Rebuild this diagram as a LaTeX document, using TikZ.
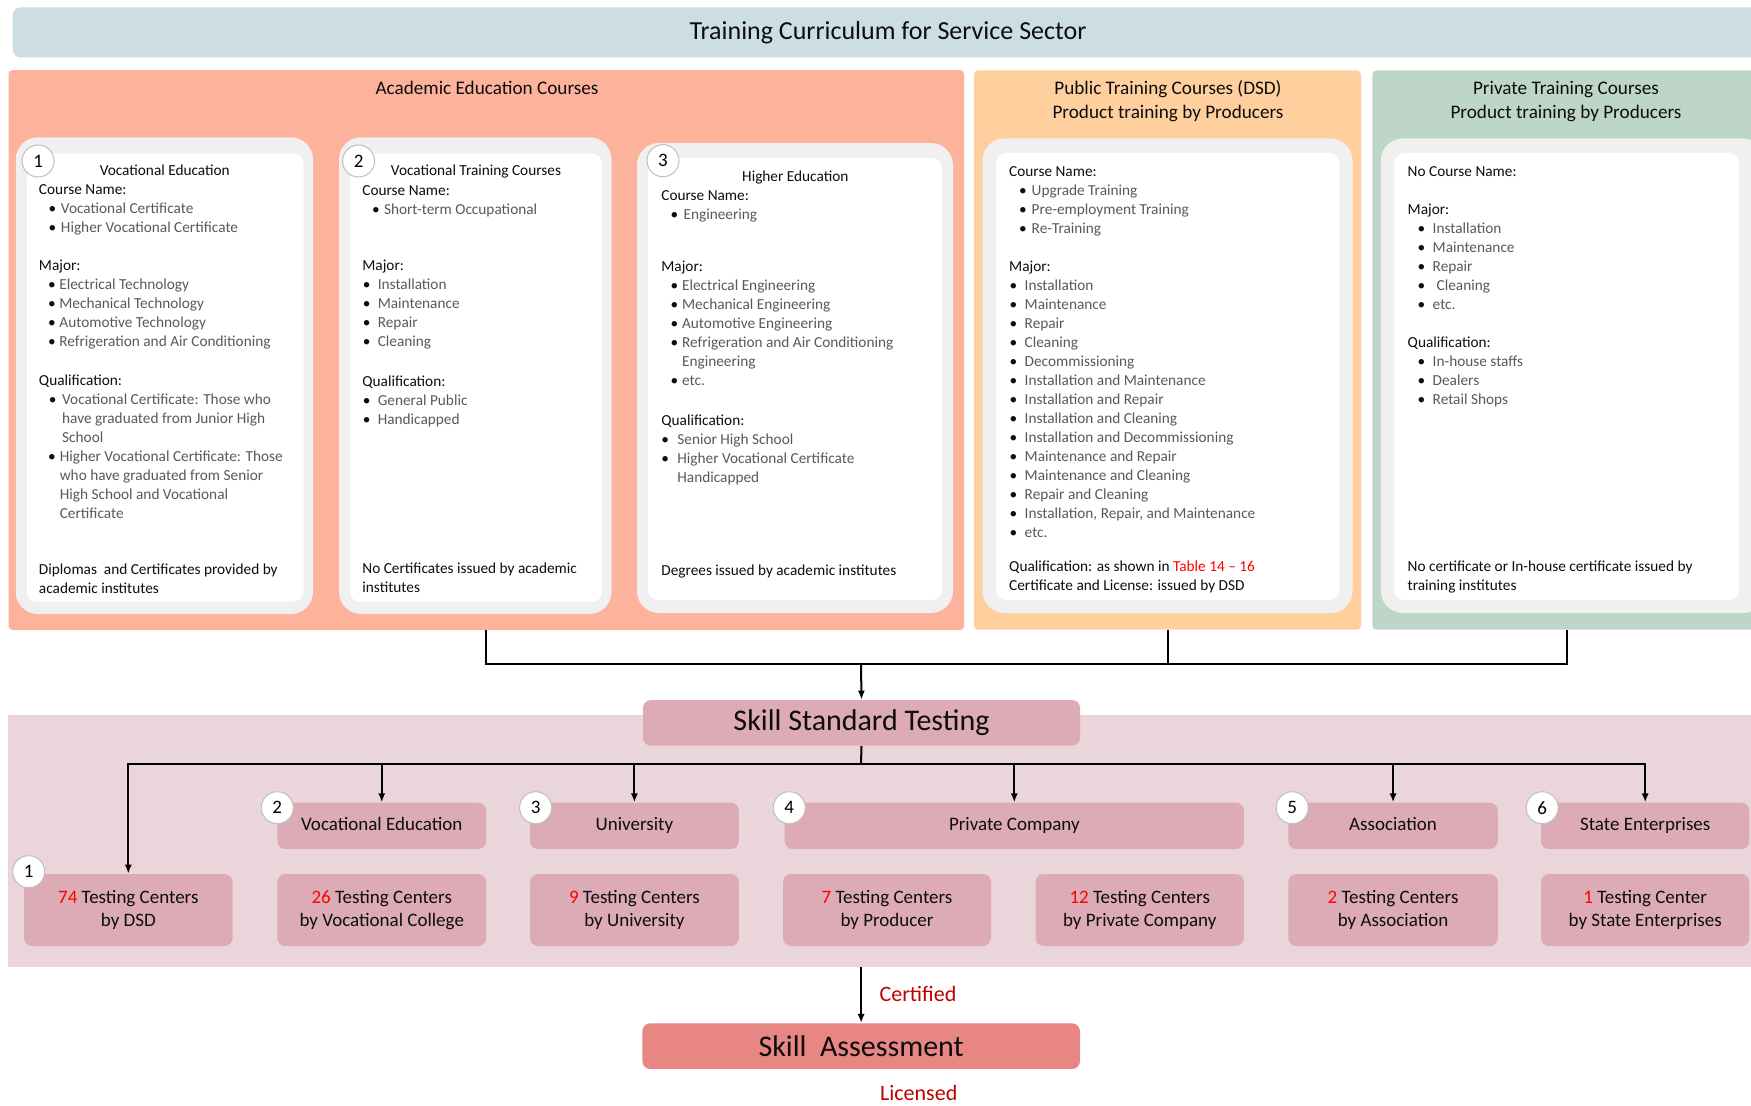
\documentclass[tikz,border=0pt]{standalone}
\usepackage{fontspec}
\setmainfont{Carlito}
\usetikzlibrary{arrows.meta,fit}

\definecolor{titlebar}{RGB}{204,222,228}
\definecolor{acadbg}{RGB}{252,178,155}
\definecolor{pubbg}{RGB}{255,207,158}
\definecolor{privbg}{RGB}{190,214,200}
\definecolor{cardgray}{RGB}{240,240,240}
\definecolor{boxpink}{RGB}{220,171,182}
\definecolor{bandpink}{RGB}{234,213,219}
\definecolor{assess}{RGB}{232,134,132}
\definecolor{itemgray}{RGB}{89,89,89}
\definecolor{txtblack}{RGB}{13,13,13}
\definecolor{numred}{RGB}{255,0,0}
\definecolor{darkred}{RGB}{192,0,0}

\newcommand\bodyfont{\fontsize{7.65}{9.5}\selectfont}
% bullet item: indent before bullet, bullet box width, text
\newcommand\itm[3]{\hspace*{#1pt}\makebox[#2pt][l]{\textbullet}{\color{itemgray}#3}}
% continuation line of a bullet item
\newcommand\cnt[2]{\hspace*{#1pt}{\color{itemgray}#2}}
% box node from two corners given in pixel units: [style]{name}{x1}{y1}{x2}{y2}{text}
\newcommand\rbox[7][]{%
  \pgfmathsetmacro\rbw{(#5-#3)*0.5}%
  \pgfmathsetmacro\rbh{(#6-#4)*0.5}%
  \node[#1, minimum width=\rbw pt, minimum height=\rbh pt] (#2) at ({(#3+#5)/2},{(#4+#6)/2}) {#7};}

\tikzset{
  panel/.style={inner sep=0, rounded corners=2pt},
  cardout/.style={fill=cardgray, inner sep=0, rounded corners=11pt},
  cardin/.style={fill=white, inner sep=0, rounded corners=5pt},
  bodytxt/.style={anchor=north west, inner sep=0, align=left, font=\bodyfont, text=txtblack},
  ctitle/.style={anchor=base, inner sep=0, font=\bodyfont, text=txtblack},
  ptitle/.style={anchor=base, inner sep=0, font=\fontsize{9.6}{11}\selectfont, text=txtblack},
  numc/.style={circle, draw=black!25, fill=white, line width=0.5pt, minimum size=16pt,
    inner sep=0, font=\fontsize{9.5}{10}\selectfont},
  pbox/.style={fill=boxpink, rounded corners=4pt, inner sep=0, align=center,
    font=\fontsize{9.5}{11.8}\selectfont, text=txtblack},
  bigbox/.style={rounded corners=4pt, inner sep=0, font=\fontsize{15}{18}\selectfont, text=txtblack},
  conn/.style={line width=1pt},
  arr/.style={conn, -{Latex[length=4.5pt,width=3.6pt]}},
  redlbl/.style={inner sep=0, font=\fontsize{11}{13}\selectfont, text=darkred},
}

\begin{document}
\begin{tikzpicture}[x=0.5pt,y=-0.5pt]
\useasboundingbox (0,0) rectangle (1751,1105);
\fill[white] (0,0) rectangle (1751,1105);

% ---------- header ----------
\node[fill=titlebar, rounded corners=4pt, inner sep=0, fit={(12.6,7.3) (1763,57.3)}] (bar) {};
\node[anchor=base, inner sep=0, font=\fontsize{13}{15}\selectfont, text=txtblack] (title) at (888,39)
  {Training Curriculum for Service Sector};

% ---------- course panels ----------
\node[panel, fill=acadbg, fit={(8.6,70) (964,630)}] (acad) {};
\node[panel, fill=pubbg, fit={(974,70.4) (1361,629.7)}] (pub) {};
\node[panel, fill=privbg, fit={(1372.4,70.4) (1762,629.7)}] (priv) {};
\node[ptitle] (acadt) at (487,94.5) {Academic Education Courses};
\node[ptitle] (pubt1) at (1168,94.5) {Public Training Courses (DSD)};
\node[ptitle] (pubt2) at (1168,118.5) {Product training by Producers};
\node[ptitle] (privt1) at (1566,94.5) {Private Training Courses};
\node[ptitle] (privt2) at (1566,118.5) {Product training by Producers};

% ---------- cards ----------
\node[cardout, fit={(15.8,137.3) (313,614)}] (c1o) {};
\node[cardin, fit={(27,153.3) (303.5,601.7)}] (c1i) {};
\node[cardout, fit={(339,137.3) (611.5,614)}] (c2o) {};
\node[cardin, fit={(350,153.3) (602,601.7)}] (c2i) {};
\node[cardout, fit={(637,143) (953,613)}] (c3o) {};
\node[cardin, fit={(648,158) (942,600)}] (c3i) {};
\node[cardout, fit={(982.5,138.4) (1352.5,613)}] (c4o) {};
\node[cardin, fit={(996,153.2) (1339.5,600)}] (c4i) {};
\node[cardout, fit={(1380.9,138.4) (1765,613)}] (c5o) {};
\node[cardin, fit={(1394.3,153.2) (1739,600)}] (c5i) {};

\node[numc] (n1) at (38.1,161) {1};
\node[numc] (n2) at (358.6,161) {2};
\node[numc] (n3) at (663,160.7) {3};

% card 1: vocational education
\node[ctitle] (c1t) at (164.8,175.6) {Vocational Education};
\node[bodytxt] (c1b) at (38.6,181.2) {\strut Course Name:\\
  \itm{4.8}{6.2}{Vocational Certificate}\\
  \itm{4.8}{6.2}{Higher Vocational Certificate}\\[9.2pt]
  Major:\\
  \itm{4.6}{5.6}{Electrical Technology}\\
  \itm{4.6}{5.6}{Mechanical Technology}\\
  \itm{4.6}{5.6}{Automotive Technology}\\
  \itm{4.6}{5.6}{Refrigeration and Air Conditioning}\\[10.1pt]
  Qualification:\\
  \itm{5}{6.6}{Vocational Certificate: Those who}\\
  \cnt{11.6}{have graduated from Junior High}\\
  \cnt{11.6}{School}\\
  \itm{4.6}{5.8}{Higher Vocational Certificate: Those}\\
  \cnt{10.4}{who have graduated from Senior}\\
  \cnt{10.4}{High School and Vocational}\\
  \cnt{10.4}{Certificate}};
\node[bodytxt] (c1f) at (38.6,560.3) {\strut Diplomas\ \ and Certificates provided by\\academic institutes};

% card 2: vocational training courses
\node[ctitle] (c2t) at (476,175.3) {Vocational Training Courses};
\node[bodytxt] (c2b) at (362,181.3) {\strut Course Name:\\
  \itm{4.8}{6}{Short-term Occupational}\\[18.9pt]
  Major:\\
  \itm{0.2}{7.5}{Installation}\\
  \itm{0.2}{7.5}{Maintenance}\\
  \itm{0.2}{7.5}{Repair}\\
  \itm{0.2}{7.5}{Cleaning}\\[10.4pt]
  Qualification:\\
  \itm{0.2}{7.5}{General Public}\\
  \itm{0.2}{7.5}{Handicapped}};
\node[bodytxt] (c2f) at (362,559.6) {\strut No Certificates issued by academic\\institutes};

% card 3: higher education
\node[ctitle] (c3t) at (795.3,181.3) {Higher Education};
\node[bodytxt] (c3b) at (661,187) {\strut Course Name:\\
  \itm{4.6}{6.5}{Engineering}\\[16.4pt]
  Major:\\
  \itm{4.6}{5.75}{Electrical Engineering}\\
  \itm{4.6}{5.75}{Mechanical Engineering}\\
  \itm{4.6}{5.75}{Automotive Engineering}\\
  \itm{4.6}{5.75}{Refrigeration and Air Conditioning}\\
  \cnt{10.35}{Engineering}\\
  \itm{4.6}{5.75}{etc.}\\[10.5pt]
  Qualification:\\
  \itm{0}{8}{Senior High School}\\
  \itm{0}{8}{Higher Vocational Certificate}\\
  \cnt{8}{Handicapped}};
\node[bodytxt] (c3f) at (661,561.3) {\strut Degrees issued by academic institutes};

% card 4: public training
\node[bodytxt] (c4b) at (1008.8,163) {\strut Course Name:\\
  \itm{5}{6.25}{Upgrade Training}\\
  \itm{5}{6.25}{Pre-employment Training}\\
  \itm{5}{6.25}{Re-Training}\\[9.2pt]
  Major:\\
  \itm{0.25}{7.5}{Installation}\\
  \itm{0.25}{7.5}{Maintenance}\\
  \itm{0.25}{7.5}{Repair}\\
  \itm{0.25}{7.5}{Cleaning}\\
  \itm{0.25}{7.5}{Decommissioning}\\
  \itm{0.25}{7.5}{Installation and Maintenance}\\
  \itm{0.25}{7.5}{Installation and Repair}\\
  \itm{0.25}{7.5}{Installation and Cleaning}\\
  \itm{0.25}{7.5}{Installation and Decommissioning}\\
  \itm{0.25}{7.5}{Maintenance and Repair}\\
  \itm{0.25}{7.5}{Maintenance and Cleaning}\\
  \itm{0.25}{7.5}{Repair and Cleaning}\\
  \itm{0.25}{7.5}{Installation, Repair, and Maintenance}\\
  \itm{0.25}{7.5}{etc.}};
\node[bodytxt] (c4f) at (1008.8,558.1) {\strut Qualification: as shown in \textcolor{numred}{Table 14 – 16}\\
  Certificate and License: issued by DSD};

% card 5: private training
\node[bodytxt] (c5b) at (1407.3,163) {\strut No Course Name:\\[9.4pt]
  Major:\\
  \itm{5}{7.5}{Installation}\\
  \itm{5}{7.5}{Maintenance}\\
  \itm{5}{7.5}{Repair}\\
  \itm{5}{7.5}{\hspace{2pt}Cleaning}\\
  \itm{5}{7.5}{etc.}\\[9.4pt]
  Qualification:\\
  \itm{5}{7.5}{In-house staffs}\\
  \itm{5}{7.5}{Dealers}\\
  \itm{5}{7.5}{Retail Shops}};
\node[bodytxt] (c5f) at (1407.3,558.1) {\strut No certificate or In-house certificate issued by\\training institutes};

% ---------- testing band ----------
\node[inner sep=0, fill=bandpink, fit={(8,715.3) (1763,966.7)}] (band) {};
\rbox[bigbox, fill=boxpink]{sst}{643}{700}{1080}{745.7}{Skill Standard Testing}

% second row: testing bodies
\rbox[pbox]{b2}{277.3}{802.7}{486.2}{849}{\strut Vocational Education}
\rbox[pbox]{b3}{530}{802.7}{738.8}{849}{\strut University}
\rbox[pbox]{b4}{784.7}{802.7}{1243.9}{849}{\strut Private Company}
\rbox[pbox]{b5}{1288.3}{802.7}{1497.8}{849}{\strut Association}
\rbox[pbox]{b6}{1541}{802.7}{1749.4}{849}{\strut State Enterprises}

% third row: testing centers
\rbox[pbox]{t1}{24.1}{874}{232.5}{946}{\textcolor{numred}{74} Testing Centers\\by DSD}
\rbox[pbox]{t2}{277.3}{874}{486.2}{946}{\textcolor{numred}{26} Testing Centers\\by Vocational College}
\rbox[pbox]{t3}{530}{874}{738.8}{946}{\textcolor{numred}{9} Testing Centers\\by University}
\rbox[pbox]{t4a}{783}{874}{991}{946}{\textcolor{numred}{7} Testing Centers\\by Producer}
\rbox[pbox]{t4b}{1035.6}{874}{1243.9}{946}{\textcolor{numred}{12} Testing Centers\\by Private Company}
\rbox[pbox]{t5}{1288.3}{874}{1497.8}{946}{\textcolor{numred}{2} Testing Centers\\by Association}
\rbox[pbox]{t6}{1541}{874}{1749.4}{946}{\textcolor{numred}{1} Testing Center\\by State Enterprises}

\node[numc] (m1) at (28.7,871.7) {1};
\node[numc] (m2) at (277.3,807.7) {2};
\node[numc] (m3) at (535.6,807.7) {3};
\node[numc] (m4) at (789.3,807.7) {4};
\node[numc] (m5) at (1292.2,807.7) {5};
\node[numc] (m6) at (1542.2,807.7) {6};

% ---------- assessment ----------
\rbox[bigbox, fill=assess]{sa}{642.3}{1023.3}{1080}{1069}{Skill\ \ Assessment}
\node[redlbl] (cert) at (918,994.3) {Certified};
\node[redlbl] (lic) at (918.7,1093.3) {Licensed};

% ---------- connectors ----------
\coordinate (j1) at (861,664);
\coordinate (j2) at (861,764);
\draw[conn] (acad.south) |- (priv.south |- j1) -- (priv.south);
\draw[conn] (pub.south) -- (pub.south |- j1);
\draw[arr] (j1) -- (sst.north);
\draw[conn] (sst.south) -- (j2);
\draw[arr] (j2) -| (t1.north);
\draw[arr] (j2) -| (b2.north);
\draw[arr] (j2) -| (b3.north);
\draw[arr] (j2) -| (b4.north);
\draw[arr] (j2) -| (b5.north);
\draw[arr] (j2) -| (b6.north);
\draw[arr] (sa.north |- band.south) -- (sa.north);
\end{tikzpicture}
\end{document}
